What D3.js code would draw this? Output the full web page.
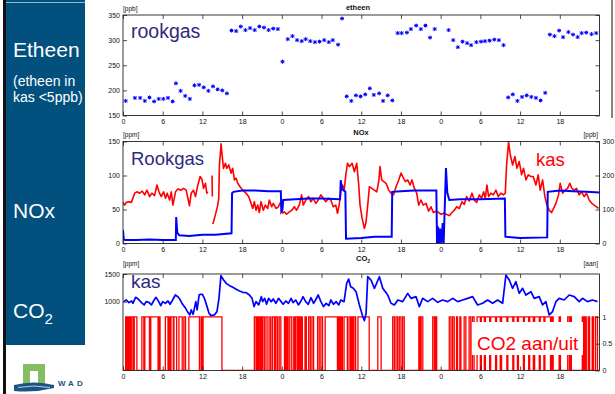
<!DOCTYPE html>
<html>
<head>
<meta charset="utf-8">
<script src="https://cdn.jsdelivr.net/npm/d3@7"></script>
<style>
  body { margin: 0; background: #fff; }
  svg { display: block; font-family: "Liberation Sans", Arial, sans-serif; }
</style>
</head>
<body>
<svg id="viewport" width="615" height="394"></svg>
<script>
// ---- data (hours since start, 3 days) ----
const hourTicks = [0, 6, 12, 18, 24, 30, 36, 42, 48, 54, 60, 66];
const hourLabels = ['0', '6', '12', '18', '0', '6', '12', '18', '0', '6', '12', '18'];

const etheenTicks = [150, 200, 250, 300, 350];
const noxPpmTicks = [0, 50, 100, 150];
const noxPpbTicks = [0, 100, 200, 300];
const co2PpmTicks = [1000, 1500];
const co2AanTicks = [0, 0.5, 1];

// etheen in rookgas [ppb]
const etheenHours = [0.4, 1.8, 2.6, 3.3, 4.0, 4.7, 5.4, 6.1, 6.8, 7.5, 8.0, 8.7, 9.4, 10.1, 10.8, 11.5,
  12.2, 12.9, 13.6, 14.3, 15.0, 15.7, 16.4, 17.1, 17.8, 18.5, 19.2, 19.9, 20.6, 21.3, 22.0, 22.7, 23.4,
  24.1, 24.9, 25.6, 26.3, 27.0, 27.6, 28.3, 29.0, 29.7, 30.4, 31.1, 31.7, 32.5, 33.1, 33.8, 34.5, 35.2,
  35.9, 36.6, 37.3, 37.9, 38.7, 39.3, 40.0, 40.7, 41.5, 42.1, 42.9, 43.5, 44.3, 45.0, 45.7, 46.4, 47.1,
  49.2, 49.9, 50.6, 51.3, 52.0, 52.6, 53.4, 54.1, 54.7, 55.4, 56.1, 56.8, 57.5, 58.2, 58.9, 59.6, 60.3,
  61.0, 61.7, 62.4, 63.1, 63.8, 64.5, 65.2, 65.9, 66.5, 67.3, 68.0, 68.7, 69.3, 70.0, 70.8, 71.5];
const etheenValues = [179, 185, 185, 179, 186, 178, 183, 183, 185, 178, 214, 199, 189, 183, 210, 211,
  206, 199, 208, 202, 200, 194, 319, 318, 327, 320, 324, 320, 327, 325, 320, 323, 322,
  257, 302, 308, 300, 298, 302, 298, 296, 297, 300, 296, 300, 291, 343, 188, 179, 190,
  188, 192, 204, 191, 194, 179, 190, 180, 314, 314, 315, 322, 329, 322, 329, 305, 322,
  320, 300, 286, 297, 294, 290, 296, 297, 298, 299, 301, 300, 290, 186, 192, 179, 187,
  190, 187, 185, 180, 195, 311, 308, 319, 306, 316, 311, 306, 314, 315, 312, 314];

// NOx rookgas [ppm], left axis
const noxRookgas = [[0, 20], [0.12, 6], [0.3, 5], [2, 5], [4, 6], [6, 5], [7.98, 5], [8.04, 39], [8.2, 16],
  [8.5, 12], [10, 11], [12, 13], [14, 13], [16.4, 15], [16.48, 74], [16.7, 76], [18, 78], [20, 78], [22, 77],
  [23.85, 77], [23.92, 47], [24.1, 50], [24.2, 64], [26, 65], [28, 66], [30, 66], [32.8, 65], [32.9, 93],
  [33.1, 80], [33.6, 76], [33.7, 7], [36, 8], [38, 10], [40.6, 10], [40.68, 76], [42, 77], [44, 78],
  [47.35, 78], [47.45, 0], [47.6, 25], [47.75, 0], [47.9, 22], [48.1, 0], [48.3, 30], [48.45, 0],
  [48.8, 111], [49.0, 75], [49.3, 64], [51, 65], [54, 65], [57.7, 66], [57.78, 10], [60, 8], [64.1, 9],
  [64.18, 76], [66, 78], [68, 77], [70, 76], [72, 75]];

// NOx kas [ppb], right axis (null = gap in the record)
const noxKas = [[0, 121], [0.25, 113], [0.5, 121], [0.9, 123], [1.26, 121], [1.76, 148], [2.11, 152],
  [2.51, 148], [2.91, 154], [3.27, 143], [3.62, 157], [4.02, 138], [4.37, 148], [4.77, 141], [5.13, 172],
  [5.43, 152], [5.78, 138], [6.13, 152], [6.43, 133], [6.68, 148], [7.04, 128], [7.29, 152], [7.54, 113],
  [7.94, 152], [8.29, 160], [8.79, 157], [9.15, 162], [9.55, 157], [9.8, 133], [10.05, 111], [10.3, 148],
  [10.65, 157], [10.95, 138], [11.31, 172], [11.66, 197], [11.96, 187], [12.16, 162], [12.46, 177],
  [12.66, 148], [12.81, 152], [13.1, null], [13.45, 200], [13.5, 138], [13.52, null], [13.57, 57],
  [13.82, 74], [14.07, 93], [14.32, 113], [14.47, 133], [14.57, 231], [14.82, 293], [14.97, 261],
  [15.18, 221], [15.48, 236], [15.68, 221], [15.98, 231], [16.33, 207], [16.58, 221], [16.83, 187],
  [17.09, 192], [17.34, 177], [17.69, 167], [18.09, 157], [18.59, 148], [18.99, 138], [19.35, 118],
  [19.6, 103], [19.85, 123], [20.1, 98], [20.35, 113], [20.6, 91], [20.85, 123], [21.21, 98], [21.51, 113],
  [21.86, 103], [22.11, 128], [22.46, 108], [22.71, 118], [23.12, 103], [23.47, 108], [23.87, 123],
  [24.12, 89], [24.37, 93], [24.72, 86], [25.13, 93], [25.53, 98], [25.88, 108], [26.23, 98], [26.63, 113],
  [26.98, 143], [27.24, 113], [27.64, 128], [28.04, 138], [28.39, 123], [28.74, 133], [29.15, 118],
  [29.5, 128], [29.9, 143], [30.25, 133], [30.65, 123], [31.01, 133], [31.41, 128], [31.76, 108],
  [32.16, 113], [32.41, 89], [32.66, 113], [32.91, 152], [33.17, 172], [33.42, 157], [33.67, 202],
  [33.92, 236], [34.21, 226], [34.62, 236], [34.97, 211], [35.32, 236], [35.62, 172], [35.82, 113],
  [36.13, 74], [36.48, 44], [36.73, 64], [36.98, 113], [37.23, 167], [37.58, 162], [37.99, 157],
  [38.34, 152], [38.64, 182], [38.84, 226], [39.09, 187], [39.4, 182], [39.75, 177], [40.15, 157],
  [40.5, 148], [40.86, 143], [41.26, 167], [41.66, 187], [42.01, 207], [42.26, 197], [42.67, 182],
  [43.02, 187], [43.37, 172], [43.67, 187], [44.03, 162], [44.38, 148], [44.68, 113], [45.03, 128],
  [45.38, 113], [45.79, 118], [46.19, 95], [46.54, 108], [46.89, 91], [47.3, 95], [47.7, 91], [48.05, 86],
  [48.45, 89], [48.81, 86], [49.31, 82], [49.71, 91], [50.06, 98], [50.42, 108], [50.82, 103], [51.22, 123],
  [51.57, 115], [51.92, 138], [52.33, 125], [52.73, 148], [53.08, 128], [53.43, 121], [53.84, 143],
  [54.19, 133], [54.49, 152], [54.74, 133], [54.99, 172], [55.25, 138], [55.6, 148], [55.95, 143],
  [56.35, 157], [56.7, 138], [57.11, 148], [57.46, 143], [57.76, 148], [57.96, 231], [58.26, 298],
  [58.52, 261], [58.87, 231], [59.22, 256], [59.52, 221], [59.87, 241], [60.23, 202], [60.53, 221],
  [60.88, 187], [61.23, 202], [61.64, 197], [61.99, 197], [62.39, 172], [62.74, 202], [63.04, 157],
  [63.4, 187], [63.75, 138], [64.05, 113], [64.4, 98], [64.75, 91], [65.06, 103], [65.41, 118],
  [65.81, 143], [66.06, 177], [66.42, 148], [66.82, 157], [67.17, 162], [67.52, 177], [67.82, 162],
  [68.18, 157], [68.53, 162], [68.93, 143], [69.28, 152], [69.69, 138], [70.04, 148], [70.44, 128],
  [70.84, 118], [71.2, 113], [71.55, 108], [71.85, 103]];

// CO2 in kas [ppm], left axis
const co2Kas = [[0.1, 1000], [0.5, 1030], [0.9, 982], [1.3, 1012], [1.5, 970], [1.9, 1078], [2.3, 1048],
  [2.8, 982], [3.2, 940], [3.5, 1000], [3.9, 988], [4.3, 940], [4.7, 1030], [5.0, 1078], [5.4, 1000],
  [5.7, 928], [6.0, 1000], [6.4, 970], [6.8, 1012], [7.1, 952], [7.5, 1030], [7.9, 1120], [8.3, 1090],
  [8.6, 1042], [9.0, 952], [9.4, 892], [9.8, 807], [10.1, 760], [10.3, 850], [10.6, 771], [11.0, 1000],
  [11.2, 850], [11.5, 1120], [11.7, 1132], [12.0, 1132], [12.3, 1060], [12.7, 910], [13.0, 790],
  [13.3, 747], [13.8, 760], [14.2, 820], [14.5, 1060], [14.8, 1470], [15.2, 1391], [15.6, 1331],
  [16.1, 1289], [16.6, 1259], [17.1, 1223], [17.6, 1193], [18.1, 1169], [18.6, 1163], [19.1, 1120],
  [19.5, 1060], [19.8, 910], [20.1, 1000], [20.5, 940], [20.9, 1090], [21.1, 1000], [21.4, 1060],
  [21.7, 952], [22.0, 1060], [22.4, 1000], [22.7, 1048], [23.1, 970], [23.5, 1060], [23.9, 1000],
  [24.2, 952], [24.6, 1012], [25.0, 970], [25.4, 1060], [25.7, 982], [26.1, 1030], [26.5, 940],
  [26.9, 1012], [27.2, 1090], [27.6, 1000], [28.0, 952], [28.4, 1072], [28.8, 970], [29.1, 1030],
  [29.5, 1120], [29.9, 1000], [30.3, 910], [30.7, 970], [31.1, 928], [31.4, 1030], [31.8, 952],
  [32.2, 1000], [32.6, 940], [32.9, 1030], [33.4, 1000], [33.8, 1331], [34.1, 1409], [34.4, 1271],
  [34.8, 1241], [35.22, 1180], [35.72, 940], [36.23, 729], [36.48, 657], [36.73, 789], [36.98, 1451],
  [37.48, 1391], [37.99, 1241], [38.74, 1451], [39.25, 1241], [40.0, 1120], [40.5, 970], [41.01, 940],
  [41.51, 1030], [42.26, 1000], [43.02, 1150], [43.52, 1060], [44.28, 1090], [44.78, 910], [45.28, 1060],
  [46.04, 1000], [46.79, 1060], [47.55, 988], [48.3, 1030], [49.06, 1000], [49.81, 1060], [50.57, 1000],
  [51.32, 1030], [52.08, 1060], [52.83, 1090], [53.58, 940], [54.34, 970], [55.09, 1030], [55.85, 970],
  [56.6, 1030], [57.36, 970], [57.86, 1482], [58.36, 1391], [58.87, 1241], [59.37, 1361], [59.87, 1150],
  [60.38, 1241], [60.88, 1120], [61.64, 1180], [62.14, 1060], [62.89, 1090], [63.4, 940], [63.9, 1000],
  [64.4, 760], [64.91, 820], [65.41, 1000], [65.91, 1060], [66.67, 1030], [67.42, 1120], [68.18, 1090],
  [68.93, 1000], [69.43, 1060], [70.19, 1000], [70.94, 1030], [71.7, 1000]];

// CO2 dosing switched on (aan = 1), start and end hour of each period
const co2AanPeriods = [[0.4, 0.6], [0.7, 0.9], [1.0, 1.15], [1.25, 1.5], [1.7, 2.1], [2.85, 3.15],
  [3.3, 4.0], [4.2, 5.3], [5.45, 5.6], [6.4, 6.8], [6.9, 7.1], [7.25, 7.6], [7.7, 8.1], [8.45, 8.95],
  [9.2, 9.45], [9.95, 11.55], [11.8, 12.0], [12.1, 14.95], [19.85, 20.1], [20.3, 20.5], [20.7, 20.9],
  [21.1, 21.35], [21.6, 21.9], [22.2, 22.35], [22.6, 22.9], [23.1, 23.35], [23.6, 23.85], [24.4, 24.6],
  [24.75, 24.95], [25.2, 25.5], [25.8, 25.95], [26.1, 26.35], [26.5, 26.7], [26.9, 27.1], [27.5, 27.7],
  [28.05, 28.3], [28.55, 28.8], [29.4, 29.65], [29.9, 30.15], [30.55, 32.4], [32.55, 32.75],
  [32.95, 33.15], [33.4, 33.9], [34.15, 34.4], [34.55, 34.75], [34.9, 35.15], [35.5, 37.2], [38.5, 39.0],
  [40.75, 41.0], [41.25, 41.5], [41.75, 42.0], [42.25, 42.5], [44.7, 44.9], [45.05, 45.3], [46.8, 47.05],
  [47.2, 47.4], [49.3, 49.55], [49.8, 50.05], [50.4, 50.55], [50.9, 51.05], [51.55, 51.8], [52.3, 52.55],
  [52.8, 53.05], [53.5, 54.0], [54.15, 54.6], [54.75, 55.4], [55.55, 56.3], [56.45, 57.0], [57.2, 58.0],
  [58.15, 58.9], [59.05, 59.6], [59.75, 60.5], [60.65, 61.3], [61.45, 62.0], [62.2, 62.9], [63.05, 63.6],
  [63.75, 64.6], [64.8, 65.0], [65.9, 66.1], [67.2, 67.45], [67.6, 67.75], [69.4, 69.6], [69.8, 70.0],
  [70.3, 70.5], [70.9, 71.1], [71.4, 71.7]];

// ---- layout ----
const svg = d3.select('#viewport');
const colours = { panel: '#01507e', blue: '#0000ff', red: '#ff0000', label: '#2e2a7e' };
const x = d3.scaleLinear().domain([0, 72]).range([123, 599.5]);
const frames = {
  etheen: { top: 15, bottom: 115.5 },
  nox: { top: 141.5, bottom: 243.5 },
  co2: { top: 274, bottom: 370.5 },
};

// left slide strip
svg.append('rect').attr('x', 3).attr('y', 0).attr('width', 3).attr('height', 394).attr('fill', '#111');
svg.append('rect').attr('x', 6).attr('y', 0).attr('width', 79).attr('height', 345).attr('fill', colours.panel);
svg.append('line').attr('x1', 6).attr('x2', 85).attr('y1', 2.5).attr('y2', 2.5)
  .attr('stroke', '#9db6cb').attr('stroke-width', 1);
svg.append('clipPath').attr('id', 'panelClip')
  .append('rect').attr('x', 6).attr('y', 0).attr('width', 77).attr('height', 345);
const side = svg.append('g').attr('clip-path', 'url(#panelClip)').attr('fill', '#fff');
side.append('text').attr('x', 13).attr('y', 57).style('font-size', '21px').text('Etheen');
side.append('text').attr('x', 13).attr('y', 86).style('font-size', '14px').text('(etheen in');
side.append('text').attr('x', 13).attr('y', 102).style('font-size', '14px').text('kas <5ppb)');
side.append('text').attr('x', 13).attr('y', 218).style('font-size', '21px').text('NOx');
const co2Label = side.append('text').attr('x', 13).attr('y', 318).style('font-size', '21px').text('CO');
co2Label.append('tspan').attr('dy', 6).style('font-size', '15px').text('2');

// logo
const logo = svg.append('g');
logo.append('rect').attr('x', 23).attr('y', 364).attr('width', 22).attr('height', 21).attr('fill', '#86bd62');
logo.append('rect').attr('x', 30).attr('y', 371).attr('width', 8).attr('height', 14).attr('fill', '#fff');
logo.append('path').attr('d', 'M14,385 Q34,380 54,385 L54,388 Q34,393 14,391 Z').attr('fill', '#1b5585');
logo.append('path').attr('d', 'M18,387.5 Q34,384.5 50,387.5').attr('fill', 'none')
  .attr('stroke', '#fff').attr('stroke-width', 0.7);
logo.append('text').attr('x', 58).attr('y', 386).style('font-size', '8px').style('font-weight', 'bold')
  .style('letter-spacing', '3px').attr('fill', '#1b5585').text('WAD');

// dark edge on the right of the top chart
svg.append('line').attr('x1', 612).attr('x2', 612).attr('y1', 0).attr('y2', 118)
  .attr('stroke', '#333').attr('stroke-width', 1.2);

const plain = (d) => String(d);

function styleAxis(g) {
  g.select('.domain').remove();
  g.selectAll('.tick line').attr('stroke', '#222').attr('stroke-width', 0.8);
  g.selectAll('.tick text').style('font-size', '7px').attr('fill', '#111')
    .style('font-family', '"Liberation Sans", Arial, sans-serif');
}

function drawFrame(key, yLeft, leftTicks, yRight, rightTicks, mirrorLeft) {
  const f = frames[key];
  const g = svg.append('g').attr('class', `frame ${key}`);
  g.append('g').attr('transform', `translate(0,${f.bottom})`)
    .call(d3.axisBottom(x).tickValues(hourTicks).tickFormat((d, i) => hourLabels[i]).tickSize(-4).tickPadding(4))
    .call(styleAxis);
  g.append('g').attr('transform', `translate(0,${f.top})`)
    .call(d3.axisTop(x).tickValues(hourTicks).tickFormat('').tickSize(-4))
    .call(styleAxis);
  g.append('g').attr('transform', `translate(${x(0)},0)`)
    .call(d3.axisLeft(yLeft).tickValues(leftTicks).tickFormat(plain).tickSize(-4).tickPadding(3))
    .call(styleAxis);
  if (yRight) {
    g.append('g').attr('transform', `translate(${x(72)},0)`)
      .call(d3.axisRight(yRight).tickValues(rightTicks).tickFormat(plain).tickSize(-4).tickPadding(3))
      .call(styleAxis);
  }
  if (mirrorLeft) {
    g.append('g').attr('transform', `translate(${x(72)},0)`)
      .call(d3.axisRight(yLeft).tickValues(leftTicks).tickFormat('').tickSize(-4))
      .call(styleAxis);
  }
  g.append('rect').attr('x', x(0)).attr('y', f.top).attr('width', x(72) - x(0)).attr('height', f.bottom - f.top)
    .attr('fill', 'none').attr('stroke', '#222').attr('stroke-width', 0.9);
}

function clipFor(key) {
  const f = frames[key];
  svg.append('clipPath').attr('id', `clip-${key}`)
    .append('rect').attr('x', x(0)).attr('y', f.top).attr('width', x(72) - x(0)).attr('height', f.bottom - f.top);
  return svg.append('g').attr('clip-path', `url(#clip-${key})`);
}

function smallText(txt, px, py, anchor, bold) {
  svg.append('text').attr('x', px).attr('y', py).attr('text-anchor', anchor || 'start')
    .style('font-size', bold ? '7.5px' : '6.5px').style('font-weight', bold ? 'bold' : 'normal')
    .attr('fill', '#111').text(txt);
}

// ---- etheen ----
const yEtheen = d3.scaleLinear().domain([150, 350]).range([frames.etheen.bottom, frames.etheen.top]);
const gEtheen = clipFor('etheen');
const star = 'M-2,0H2M0,-2V2M-1.5,-1.5L1.5,1.5M-1.5,1.5L1.5,-1.5';
gEtheen.selectAll('path.pt')
  .data(etheenHours.map((h, i) => [h, etheenValues[i]]))
  .join('path')
  .attr('class', 'pt')
  .attr('d', star)
  .attr('transform', (d) => `translate(${x(d[0])},${yEtheen(d[1])})`)
  .attr('stroke', colours.blue).attr('stroke-width', 1);
drawFrame('etheen', yEtheen, etheenTicks, null, null, true);
smallText('[ppb]', 123, 11);
smallText('etheen', 358, 10, 'middle', true);
svg.append('text').attr('x', 131).attr('y', 38).style('font-size', '19.5px').attr('fill', colours.label).text('rookgas');

// ---- NOx ----
const yNoxPpm = d3.scaleLinear().domain([0, 150]).range([frames.nox.bottom, frames.nox.top]);
const yNoxPpb = d3.scaleLinear().domain([0, 300]).range([frames.nox.bottom, frames.nox.top]);
const gNox = clipFor('nox');
gNox.append('path').datum(noxKas)
  .attr('d', d3.line().defined((d) => d[1] !== null).x((d) => x(d[0])).y((d) => yNoxPpb(d[1])))
  .attr('fill', 'none').attr('stroke', colours.red).attr('stroke-width', 1.6).attr('stroke-linejoin', 'round');
gNox.append('path').datum(noxRookgas)
  .attr('d', d3.line().x((d) => x(d[0])).y((d) => yNoxPpm(d[1])))
  .attr('fill', 'none').attr('stroke', colours.blue).attr('stroke-width', 2);
drawFrame('nox', yNoxPpm, noxPpmTicks, yNoxPpb, noxPpbTicks, false);
smallText('[ppm]', 123, 137);
smallText('[ppb]', 598, 137, 'end');
smallText('NOx', 361, 135, 'middle', true);
svg.append('text').attr('x', 131).attr('y', 165).style('font-size', '18.5px').attr('fill', colours.label).text('Rookgas');
svg.append('text').attr('x', 536).attr('y', 166).style('font-size', '18.5px').attr('fill', colours.red).text('kas');

// ---- CO2 ----
const yCo2 = d3.scaleLinear().domain([-245, 1500]).range([frames.co2.bottom, frames.co2.top]);
const yAan = d3.scaleLinear().domain([0, 1.8]).range([frames.co2.bottom, frames.co2.top]);
const aanSteps = [[0, 0]];
co2AanPeriods.forEach(([s, e]) => { aanSteps.push([s, 0], [s, 1], [e, 1], [e, 0]); });
aanSteps.push([72, 0]);
const gCo2 = clipFor('co2');
gCo2.append('path').datum(aanSteps)
  .attr('d', d3.line().x((d) => x(d[0])).y((d) => yAan(d[1])))
  .attr('fill', 'none').attr('stroke', colours.red).attr('stroke-width', 1.3);
gCo2.append('path').datum(co2Kas)
  .attr('d', d3.line().x((d) => x(d[0])).y((d) => yCo2(d[1])))
  .attr('fill', 'none').attr('stroke', colours.blue).attr('stroke-width', 1.7).attr('stroke-linejoin', 'round');
drawFrame('co2', yCo2, co2PpmTicks, yAan, co2AanTicks, false);
smallText('[ppm]', 123, 266);
smallText('[aan]', 598, 266, 'end');
const co2Title = svg.append('text').attr('x', 356).attr('y', 261)
  .style('font-size', '7.5px').style('font-weight', 'bold').attr('fill', '#111').text('CO');
co2Title.append('tspan').attr('dy', 2).style('font-size', '5px').text('2');
svg.append('text').attr('x', 131).attr('y', 288).style('font-size', '19px').attr('fill', colours.label).text('kas');
svg.append('rect').attr('x', 472).attr('y', 322).attr('width', 111).attr('height', 33).attr('fill', '#fff');
svg.append('text').attr('x', 477).attr('y', 350).style('font-size', '19px').attr('fill', colours.red).text('CO2 aan/uit');
</script>
</body>
</html>
